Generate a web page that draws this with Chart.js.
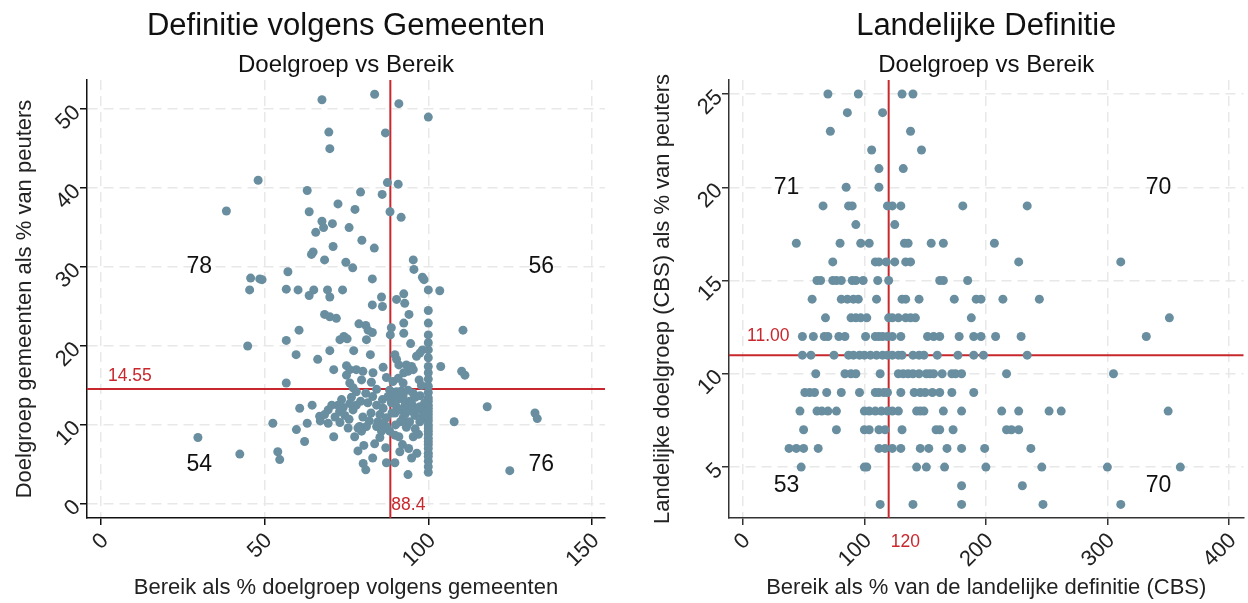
<!DOCTYPE html>
<html><head><meta charset="utf-8">
<script src="https://cdn.jsdelivr.net/npm/chart.js@4.4.1/dist/chart.umd.min.js"></script>
<style>
html,body{margin:0;padding:0;background:#fff}
#wrap{position:relative;width:1248px;height:603px;overflow:hidden}
#gem{position:absolute;left:0;top:0}
#cbs{position:absolute;left:624px;top:0}
</style></head><body>
<div id="wrap">
<canvas id="gem" width="624" height="603"></canvas>
<canvas id="cbs" width="624" height="603"></canvas>
</div>
<script>
// gemeenten: [bereik %, doelgroep %]
const gemPoints = [
 [67.5,51.2],[83.6,51.9],[91,50.7],[100,49],[69.6,47.1],[86.9,47],[69.9,45],[48,41],[87.5,40.7],[90.8,40.5],
 [63,39.7],[79.3,39.5],[85.9,39.2],[72.4,38],[77.6,37.3],[38.3,37.1],[63.6,37],[88.3,37],[91.7,36.3],[67.5,35.8],
 [70.7,35.5],[68,35],[75.8,35],[65.6,34.4],[79.7,33.4],[70.9,32.6],[83.5,32.4],[64.8,31.9],[64.3,31.6],[68.3,30.9],
 [95.4,30.9],[74.8,30.6],[76.9,29.9],[95.6,29.7],[57.1,29.4],[45.7,28.6],[48.5,28.5],[49.2,28.4],[82.9,28.5],[98.2,28.7],
 [98.7,28.4],[45.4,27.1],[56.6,27.2],[60.2,27.1],[65,27.1],[69.2,27.1],[73.8,27.1],[100,27.1],[103.5,27],[63.6,26.4],
 [69.9,26.2],[85.7,26.2],[92.5,26.6],[90.3,25.9],[86,25],[82.9,25.2],[92.8,25.4],[100,24.5],[94.1,24],[68.3,24],
 [69.9,23.7],[71.9,23.5],[100,22.9],[92.5,22.9],[78.8,22.8],[80.9,22.6],[81.6,22],[82.9,21.7],[88.7,22.3],[88.4,21.4],
 [92.5,21.6],[100,21.4],[100,20.4],[60.5,22],[110.6,22],[74.2,21.2],[73,20.8],[75.2,20.9],[81.1,20.8],[56.6,20.7],
 [44.8,20],[94.6,20.3],[98.2,19.5],[97.4,19.1],[100,19.5],[100,18.5],[69.9,19.4],[77.2,19.4],[89.8,18.9],[90.3,18.3],
 [59.6,18.9],[82.3,18.9],[96.4,18.7],[66.2,18.3],[75,17.5],[76,17],[78,17],[80,16.8],[71.1,17],[86.2,17.3],
 [83.1,16.6],[91,17.6],[93.3,17.6],[94.9,17.4],[93.8,16.8],[92.5,16.6],[95.4,17],[100,17.4],[100,16.6],[103.8,17.4],
 [110.2,16.8],[111.2,16.3],[75,16.3],[76,15.3],[79.6,15.7],[82.6,15.4],[87.2,16],[89.2,15.5],[90.8,15.9],[92.3,15.3],
 [97.2,15.7],[97.9,15],[56.6,15.3],[100,15.8],[100,14.9],
 [84.2,14.5],[80.9,14],[77,14.7],[78,14.2],[88.2,14.4],[89.2,13.6],[90.3,14.2],[92.3,13.7],[93.8,14.4],[95.4,14],
 [100,14.1],[100,13.4],[100,12.5],[100,11.7],[100,10.9],[100,10],[100,9.2],[100,8.3],[100,7.5],[100,6.4],
 [100,5.4],[100,4],[100,13],[100,12.1],[100,11.3],[100,10.5],[100,9.6],[100,8.8],[100,7.9],[100,7],
 [100,6],[100,4.7],[98.9,12.8],[97.9,11.9],[98.4,11.1],[73.5,13.2],[72.4,12.5],[72.9,11.7],[74.5,11.2],[75.8,10.7],
 [77,11.9],[78,12.5],[79.3,13],[60.7,12.1],[69.4,11.9],[69.4,10.2],[66.8,11.1],[68.3,11.3],[63,10.2],[52.5,10.2],
 [59.7,9.4],[62.2,7.9],[71.1,8.5],[54,6.6],[54.6,5.6],[42.4,6.3],[29.6,8.4],[79,9.8],[81.1,9.8],[79.6,9.2],
 [84.2,12.5],[86.2,12.1],[85.2,11.3],[87.2,10.9],[84.6,10.4],[87.7,13.6],[88.7,12.8],[90.3,12.3],[89.8,11.5],[91.3,11.9],
 [92.8,12.3],[94.3,13],[92.3,10.9],[93.8,10.2],[95.9,11.2],[97.4,12.3],[86.2,10.2],[87.2,9.8],[88.2,9.2],[89.8,8.7],
 [78.5,9.6],[80.3,7.4],[83.6,7.6],[85.2,8.4],[87,7.1],[92.1,7.5],[91.3,6.6],[95.4,8.5],[94.9,5.8],[93.8,3.7],
 [87.2,5.2],[89.8,5.2],[80.1,5.1],[80.9,4.3],[84.2,9.8],[85.7,9.2],[93.3,9.7],[94.3,10.4],[97.4,10.4],[107.9,10.4],
 [118,12.3],[132.6,11.5],[133.3,10.8],[124.9,4.2],
 [89,13.1],[91,13.3],[93,12.8],[95,12.6],[96,13.5],[91.5,10.4],[90,10],[96,9.5],[97,8.8],[94,7],
 [96.5,6.4],[91,8.5],[88.9,11.5],[89.5,14],[91.8,14.3],[93,11.4],[96.2,12],[97.5,13.7],[94.7,11.8],
 [74,12.2],[76.5,13.5],[81.5,12.8],[82.5,11.5],[83,13.6],[86,13.2],[75.5,9.6],[77.5,8.5],[71.5,11],[76,12.7],
 [80,11],[82,10.5],[70.5,12.5],[73,10.3],[67,10.5],[64.5,12.5],[78.5,6.7],[83,5.8]
];
const gemMeanX = 88.4;
const gemMeanY = 14.55;
const gemCounts = [78, 56, 54, 76]; // linksboven, rechtsboven, linksonder, rechtsonder
const gemXTicks = [0, 50, 100, 150];
const gemYTicks = [0, 10, 20, 30, 40, 50];

// landelijk (CBS): doelgroep is een geheel getal, per rij de bereik-waarden
const cbsRowY = [25,24,23,22,21,20,19,18,17,16,15,14,13,12,11,10,9,8,7,6,5,4,3];
const cbsRowX = [
 [70,95,131,140],
 [86,115],
 [72,138],
 [106,147],
 [112,132],
 [85,112],
 [66,87,90,119,123,130,181,234],
 [93,125],
 [44,80,97,104,133,136,155,165,207],
 [74,109,112,118,125,134,138,227,311],
 [61,64,74,77,81,90,93,99,111,120,162,165,185],
 [57,81,86,91,95,110,131,134,145,174,192,196,214,244],
 [68,89,93,97,102,120,123,128,134,138,142,188,351],
 [49,58,67,70,79,84,101,109,112,115,119,123,130,152,157,162,178,190,196,208,229,332],
 [49,56,75,87,91,96,100,105,110,115,119,123,128,131,140,145,149,160,177,190,198,234],
 [60,84,89,93,113,128,132,136,140,145,151,154,157,164,172,175,180,217,305],
 [51,55,59,69,81,96,109,112,116,119,130,141,146,150,156,162,172,190],
 [47,61,65,70,77,100,104,109,114,119,123,128,143,146,149,165,180,213,227,252,262,350],
 [50,77,100,104,112,117,131,159,162,173,217,221,227],
 [38,44,50,62,112,117,123,130,146,153,168,180,199,237],
 [48,100,102,143,151,166,200,246,300,360],
 [180,230],
 [113,140,180,247,311]
];
const cbsMeanX = 120;
const cbsMeanY = 11;
const cbsCounts = [71, 70, 53, 70];
const cbsXTicks = [0, 100, 200, 300, 400];
const cbsYTicks = [5, 10, 15, 20, 25];

const FONT = '"Liberation Sans", Arial, sans-serif';
const DOT = '#698ea0';
const RED = '#c8282d';

const quadPlugin = {
  id: 'quad',
  beforeDatasetsDraw(chart, args, o) {
    const {ctx, chartArea: a, scales: {x, y}} = chart;
    const px = x.getPixelForValue(o.mx), py = y.getPixelForValue(o.my);
    ctx.save();
    // kwadrant aantallen
    ctx.fillStyle = '#111';
    ctx.font = '23px ' + FONT;
    ctx.textAlign = 'center';
    ctx.textBaseline = 'middle';
    const [tl, tr, bl, br] = o.counts;
    const [x1, x2] = o.cx, [y1, y2] = o.cy;
    ctx.fillText(tl, x.getPixelForValue(x1), y.getPixelForValue(y1));
    ctx.fillText(tr, x.getPixelForValue(x2), y.getPixelForValue(y1));
    ctx.fillText(bl, x.getPixelForValue(x1), y.getPixelForValue(y2));
    ctx.fillText(br, x.getPixelForValue(x2), y.getPixelForValue(y2));
    // lijnen
    ctx.strokeStyle = RED;
    ctx.lineWidth = 2;
    ctx.beginPath();
    ctx.moveTo(px, a.top); ctx.lineTo(px, a.bottom);
    ctx.moveTo(a.left, py); ctx.lineTo(a.right, py);
    ctx.stroke();
    ctx.fillStyle = RED;
    ctx.font = '17.5px ' + FONT;
    ctx.textAlign = 'left';
    ctx.fillText(o.yText, a.left + o.yDx, py - o.yDy);
    ctx.fillText(o.xText, px + o.xDx, a.bottom + o.xDy);
    ctx.restore();
  }
};

function axes(xmin, xmax, ymin, ymax, xt, yt, yw, axisColor, xTitle, yTitle, yPad) {
  const grid = {color:'#e8e8e8', lineWidth:1.5, tickColor:axisColor, tickLength:7, tickWidth:1.5, tickBorderDash:[]};
  const border = {display:true, color:axisColor, width:1.5, dash:[10,6]};
  const ticks = {font:{size:22, family:FONT}, color:'#222', minRotation:45, maxRotation:45, padding:3, autoSkip:false};
  return {
    x: {type:'linear', min:xmin, max:xmax, grid, border, ticks: Object.assign({labelOffset:4}, ticks),
      afterBuildTicks: s => { s.ticks = xt.map(v => ({value:v})) },
      afterFit: s => { s.height = 85; s.paddingLeft = 0; s.paddingRight = 0 },
      title: {display:true, text:xTitle, color:'#222', font:{size:22, family:FONT}, padding:{top:0, bottom:2}}},
    y: {type:'linear', min:ymin, max:ymax, grid, border, ticks,
      afterBuildTicks: s => { s.ticks = yt.map(v => ({value:v})) },
      afterFit: s => { s.width = yw; s.paddingTop = 0; s.paddingBottom = 0 },
      title: {display:true, text:yTitle, color:'#222', font:{size:22, family:FONT}, padding:{top:yPad, bottom:0}}}
  };
}

function titles(main) {
  return {
    title: {display:true, text:main, fullSize:false, color:'#111', font:{size:31, weight:'normal', family:FONT}, padding:{top:8, bottom:0}},
    subtitle: {display:true, text:'Doelgroep vs Bereik', fullSize:false, color:'#111', font:{size:24, family:FONT}, padding:{top:6, bottom:0}},
    legend: {display:false},
    tooltip: {enabled:false}
  };
}

const cbsPoints = cbsRowY.flatMap((yv, i) => cbsRowX[i].map(xv => ({x:xv, y:yv})));

new Chart(document.getElementById('gem'), {
  type: 'scatter',
  data: {datasets: [{data: gemPoints.map(p => ({x:p[0], y:p[1]})), backgroundColor:DOT, borderWidth:0, pointRadius:4.5}]},
  options: {
    responsive:false, animation:false,
    layout: {padding:{left:0, right:19, top:0, bottom:0}},
    scales: axes(-4.3, 154, -1.8, 53.7, gemXTicks, gemYTicks, 87, '#111',
      'Bereik als % doelgroep volgens gemeenten', 'Doelgroep gemeenten als % van peuters', 12),
    plugins: Object.assign(titles('Definitie volgens Gemeenten'), {
      quad: {mx:gemMeanX, my:gemMeanY, counts:gemCounts, cx:[30, 134.5], cy:[30, 4.9],
        yText:'14.55', yDx:21, yDy:12.5, xText:'88.4', xDx:1, xDy:-13}
    })
  },
  plugins: [quadPlugin]
});

new Chart(document.getElementById('cbs'), {
  type: 'scatter',
  data: {datasets: [{data: cbsPoints, backgroundColor:DOT, borderWidth:0, pointRadius:4.5}]},
  options: {
    responsive:false, animation:false,
    layout: {padding:{left:0, right:0, top:0, bottom:0}},
    scales: axes(-11.4, 412, 2.27, 25.75, cbsXTicks, cbsYTicks, 105, '#333',
      'Bereik als % van de landelijke definitie (CBS)', 'Landelijke doelgroep (CBS) als % van peuters', 26),
    plugins: Object.assign(titles('Landelijke Definitie'), {
      quad: {mx:cbsMeanX, my:cbsMeanY, counts:cbsCounts, cx:[36, 342], cy:[20, 4],
        yText:'11.00', yDx:18, yDy:18.5, xText:'120', xDx:2, xDy:24}
    })
  },
  plugins: [quadPlugin]
});
</script>
</body></html>
